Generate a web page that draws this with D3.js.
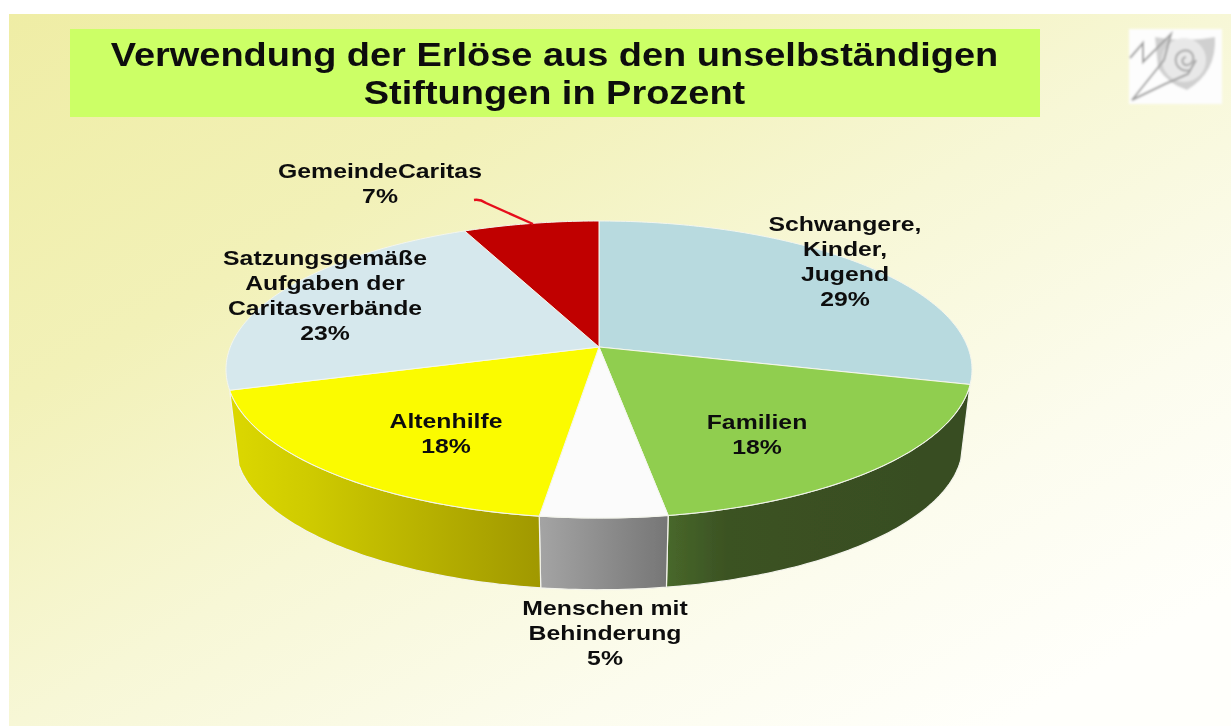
<!DOCTYPE html>
<html>
<head>
<meta charset="utf-8">
<script src="https://cdnjs.cloudflare.com/ajax/libs/d3/7.8.5/d3.min.js"></script>
<style>
  html, body { margin: 0; padding: 0; background: #fff; overflow: hidden; }
  svg { display: block; }
  text { font-family: "Liberation Sans", Arial, sans-serif; font-weight: bold; fill: #111; text-anchor: middle; }
</style>
</head>
<body>
<div id="root"></div>
<script>
const titleLines = ['Verwendung der Erlöse aus den unselbständigen', 'Stiftungen in Prozent'];

const categories = [
  ['Schwangere,', 'Kinder,', 'Jugend'],
  ['Familien'],
  ['Menschen mit', 'Behinderung'],
  ['Altenhilfe'],
  ['Satzungsgemäße', 'Aufgaben der', 'Caritasverbände'],
  ['GemeindeCaritas'],
];
// shares as measured from the slices, the labels round them
const shares = [29, 18.45, 4.75, 18.2, 22.8, 6.8];

const topColors = ['#b8dadf', '#90ce50', '#fbfbfb', '#fbfb00', '#d6e8ed', '#c00000'];
// only the front slices show a wall
const wallStops = [
  null,
  [[0, '#48682a'], [0.2, '#3b5223'], [1, '#384d20']],
  [[0, '#a4a4a4'], [1, '#767676']],
  [[0, '#dcd800'], [0.25, '#cfcb00'], [1, '#a09800']],
  null,
  null,
];
// label centres, first baseline
const labelPos = [[845, 231], [757, 429], [605, 615], [446, 428], [325, 265], [380, 178]];

const width = 1231;
const height = 727;
const cx = 599;
const cy = 347;
const rx = 368.7;
const ry = 145.1;
const tilt = 0.1515;
const wallScale = 0.975;
const wallDrop = 76;
const lineGap = 25;
const titleStretch = 1.15;
const labelStretch = 1.24;

// perspective view of the disc, angle clockwise from the top
function project(angle, scale = 1, drop = 0) {
  const u = Math.sin(angle);
  const v = -Math.cos(angle);
  const s = scale / (1 - tilt * v);
  return [cx + rx * u * s, cy + ry * v * s + drop];
}

function arcPoints(a0, a1, scale, drop) {
  const n = Math.max(2, Math.ceil((a1 - a0) * 60));
  return d3.range(n + 1).map((i) => project(a0 + (a1 - a0) * i / n, scale, drop));
}

const pie = d3.pie().sort(null);
const slices = pie(shares);
const line = d3.line();

const svg = d3.select('#root')
  .append('svg')
  .attr('width', width)
  .attr('height', height);

const defs = svg.append('defs');
function addBlur(id, amount) {
  defs.append('filter')
    .attr('id', id)
    .attr('filterUnits', 'userSpaceOnUse')
    .attr('x', 0).attr('y', 0).attr('width', width).attr('height', height)
    .append('feGaussianBlur')
    .attr('stdDeviation', amount);
}
addBlur('soft', 0.6);
addBlur('softText', 0.7);
addBlur('softLogo', 1);

const bg = defs.append('linearGradient')
  .attr('id', 'bg')
  .attr('gradientUnits', 'userSpaceOnUse')
  .attr('x1', 9).attr('y1', 14)
  .attr('x2', 576).attr('y2', 978);
[[0, '#efeda5'], [0.3, '#f2f1b8'], [0.55, '#f7f7d6'], [0.8, '#fcfcee'], [1, '#fffffb']].forEach(([o, c]) => {
  bg.append('stop').attr('offset', o).attr('stop-color', c);
});

const root = svg.append('g').attr('filter', 'url(#soft)');

root.append('rect').attr('width', width).attr('height', height).attr('fill', '#fff');
root.append('rect')
  .attr('x', 9).attr('y', 14)
  .attr('width', width - 9).attr('height', height - 14 - 1)
  .attr('fill', 'url(#bg)');

// title box
root.append('rect')
  .attr('x', 70).attr('y', 29)
  .attr('width', 970).attr('height', 88)
  .attr('fill', '#ccff66');
root.append('g')
  .attr('filter', 'url(#softText)')
  .selectAll('text')
  .data(titleLines)
  .enter()
  .append('text')
  .attr('transform', (d, i) => `translate(554.5,${66 + i * 38}) scale(${titleStretch},1)`)
  .attr('font-size', 33)
  .text((d) => d);

// logo
const logo = root.append('g').attr('filter', 'url(#softLogo)');
logo.append('rect')
  .attr('x', 1129).attr('y', 29)
  .attr('width', 93).attr('height', 75)
  .attr('fill', '#fdfdfd');
logo.append('path')
  .attr('d', 'M1155,37 Q1185,43 1215,37 Q1217,72 1187,90 Q1168,84 1158,68 Z')
  .attr('fill', '#d0d0d0');
logo.append('circle')
  .attr('cx', 1184).attr('cy', 60).attr('r', 22)
  .attr('fill', '#e8e8e8');
logo.append('path')
  .attr('d', 'M1191,70 C1176,74 1170,56 1182,51 C1193,47 1198,62 1188,65 C1182,66 1180,58 1186,57')
  .attr('fill', 'none').attr('stroke', '#adadad').attr('stroke-width', 2.2);
logo.append('path')
  .attr('d', 'M1130,58 L1143,43 L1143,62 L1171,34 L1164,60 L1132,100 L1165,84 L1188,74 L1196,60')
  .attr('fill', 'none').attr('stroke', '#a2a2a2').attr('stroke-width', 2);

// walls
slices.forEach((d, i) => {
  if (!wallStops[i]) return;
  const top = arcPoints(d.startAngle, d.endAngle, 1, 0);
  const bottom = arcPoints(d.startAngle, d.endAngle, wallScale, wallDrop).reverse();
  const xs = top.concat(bottom).map((p) => p[0]);
  const grad = defs.append('linearGradient')
    .attr('id', `wall${i}`)
    .attr('gradientUnits', 'userSpaceOnUse')
    .attr('x1', d3.min(xs)).attr('y1', 0)
    .attr('x2', d3.max(xs)).attr('y2', 0);
  wallStops[i].forEach(([o, c]) => {
    grad.append('stop').attr('offset', o).attr('stop-color', c);
  });
  root.append('path')
    .attr('d', line(top.concat(bottom)) + 'Z')
    .attr('fill', `url(#wall${i})`)
    .attr('stroke', '#f4f4ec')
    .attr('stroke-width', 1.2);
});

// top of the pie
root.selectAll('.slice')
  .data(slices)
  .enter()
  .append('path')
  .attr('class', 'slice')
  .attr('d', (d) => line([[cx, cy]].concat(arcPoints(d.startAngle, d.endAngle, 1, 0))) + 'Z')
  .attr('fill', (d, i) => topColors[i])
  .attr('stroke', '#f4f6ee')
  .attr('stroke-width', 1);

// leader of the small slice
root.append('path')
  .attr('d', 'M474,200 Q480,199 486,203 L533,224')
  .attr('fill', 'none')
  .attr('stroke', '#e6101c')
  .attr('stroke-width', 2.4);

// labels
categories.forEach((rows, i) => {
  const lines = rows.concat(`${Math.round(shares[i])}%`);
  root.append('g')
    .attr('filter', 'url(#softText)')
    .selectAll('text')
    .data(lines)
    .enter()
    .append('text')
    .attr('transform', (d, j) => `translate(${labelPos[i][0]},${labelPos[i][1] + j * lineGap}) scale(${labelStretch},1)`)
    .attr('font-size', 20)
    .text((d) => d);
});
</script>
</body>
</html>
